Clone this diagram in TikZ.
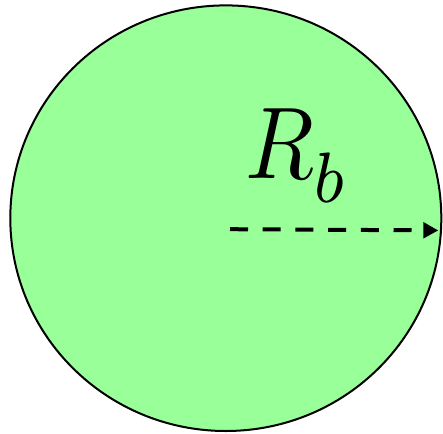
\documentclass[tikz,border=0pt]{standalone}
\usetikzlibrary{arrows.meta}
\definecolor{ballgreen}{RGB}{153,255,153}
\tikzset{
  ball/.style={draw=black, line width=2pt, fill=ballgreen},
  radiusarrow/.style={line width=4pt, dash pattern=on 18pt off 14.7pt, -{Triangle[length=15pt,width=15.5pt]}},
  label/.style={inner sep=0pt, scale=10.2, xscale=0.88, anchor=base west}
}
\begin{document}
\begin{tikzpicture}[x=1pt,y=1pt]
  \useasboundingbox (0,0) rectangle (443,-433);
  \draw[ball] (225.8,-218.2) ellipse [x radius=215.5, y radius=212.8];
  \coordinate (c) at (230,-229.2);
  \coordinate (r) at (438.3,-230.4);
  \draw[radiusarrow] (c) -- (r);
  \node[label] (rb) at (244,-178) {$R_{\lower0.9pt\hbox{$\scriptstyle b$}}$};
\end{tikzpicture}
\end{document}
